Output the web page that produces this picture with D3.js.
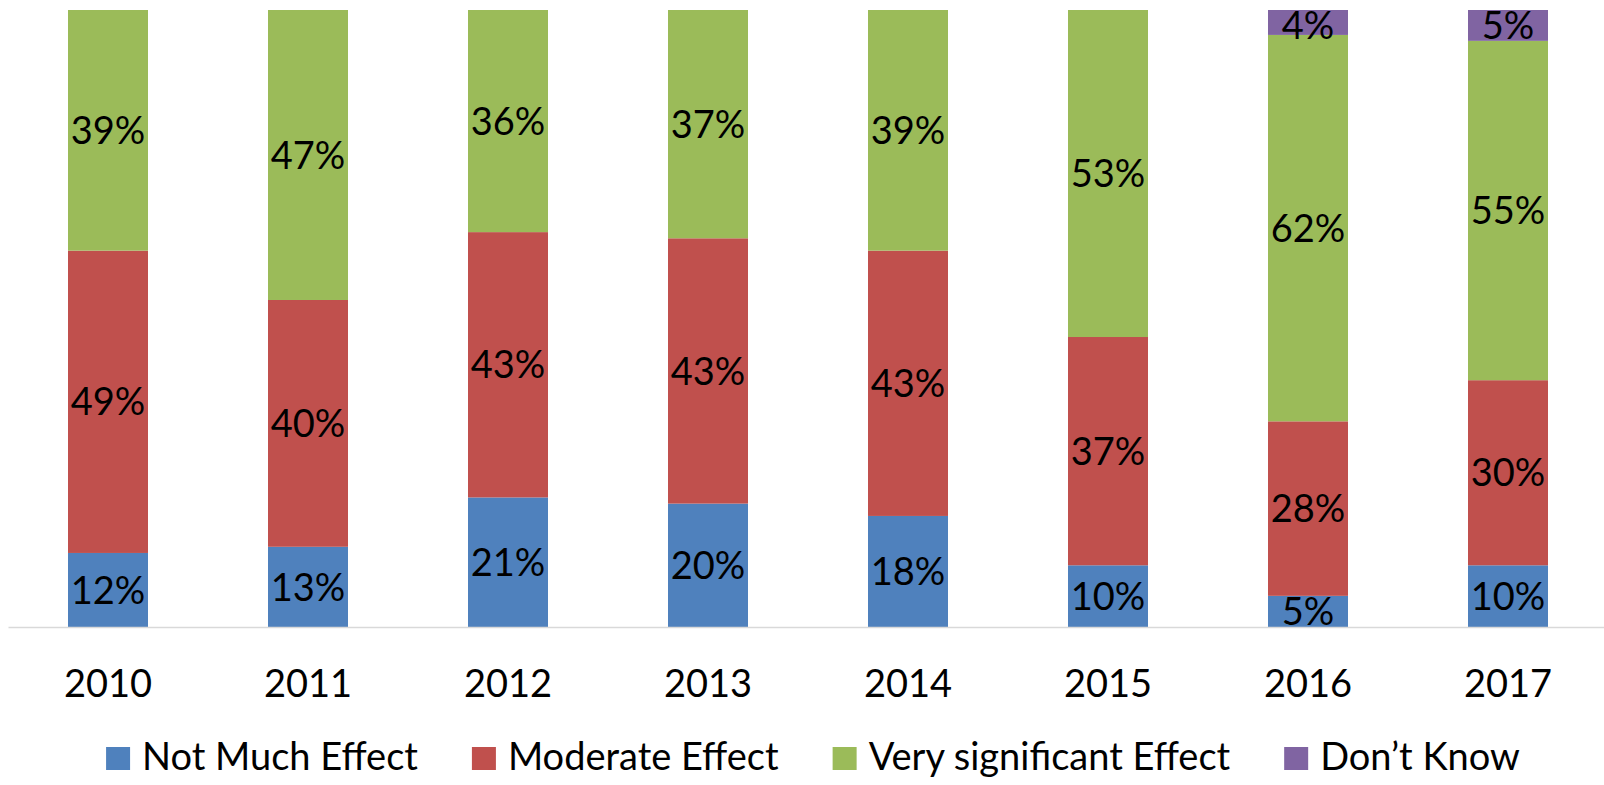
<!DOCTYPE html>
<html>
<head>
<meta charset="utf-8">
<script src="https://cdn.jsdelivr.net/npm/d3@7"></script>
<style>
  html, body { margin: 0; padding: 0; background: #fff; }
  svg { display: block; font-family: Lato, "Open Sans", sans-serif; }
</style>
</head>
<body>
<svg id="chart" width="1604" height="785"></svg>
<script>
const categories = ["2010", "2011", "2012", "2013", "2014", "2015", "2016", "2017"];
const seriesNames = ["Not Much Effect", "Moderate Effect", "Very significant Effect", "Don\u2019t Know"];
const notMuch     = [12, 13, 21, 20, 18, 10, 5, 10];
const moderate    = [49, 40, 43, 43, 43, 37, 28, 30];
const verySig     = [39, 47, 36, 37, 39, 53, 62, 55];
const dontKnow    = [0, 0, 0, 0, 0, 0, 4, 5];
const colors = ["#4F81BD", "#C0504D", "#9BBB59", "#8064A2"];

const seriesValues = [notMuch, moderate, verySig, dontKnow];
const keys = ["s0", "s1", "s2", "s3"];
const table = categories.map((c, i) => {
  const row = { year: c };
  keys.forEach((k, j) => row[k] = seriesValues[j][i]);
  return row;
});

const svg = d3.select("#chart");
const margin = { left: 8, right: -4, top: 10, bottom: 158 };
const W = 1604, H = 785;

const x = d3.scaleBand()
  .domain(categories)
  .range([margin.left, W - margin.right])
  .paddingInner(0.6)
  .paddingOuter(0.3);

const y = d3.scaleLinear()
  .domain([0, 1])
  .range([H - margin.bottom, margin.top]);

const stack = d3.stack().keys(keys).offset(d3.stackOffsetExpand);
const stacked = stack(table);

const FS = 38;

const layers = svg.append("g").selectAll("g")
  .data(stacked)
  .join("g")
  .attr("fill", (d, i) => colors[i]);

layers.selectAll("rect")
  .data(d => d.filter(p => p[1] - p[0] > 0))
  .join("rect")
  .attr("x", d => x(d.data.year))
  .attr("width", x.bandwidth())
  .attr("y", d => y(d[1]))
  .attr("height", d => y(d[0]) - y(d[1]));

// axis line
const axisG = svg.append("g")
  .attr("transform", `translate(0,${y(0)})`)
  .call(d3.axisBottom(x).tickSize(0).tickPadding(0));
axisG.select(".domain").attr("stroke", "#D9D9D9").attr("stroke-width", 1.5);
axisG.selectAll(".tick text")
  .attr("font-family", "Lato, sans-serif")
  .attr("font-size", FS)
  .attr("fill", "#000")
  .attr("dy", null)
  .attr("y", 70);

// data labels
const labelG = svg.append("g");
stacked.forEach((layer, i) => {
  labelG.selectAll(null)
    .data(layer.filter(p => p[1] - p[0] > 0).map(p => ({ p, v: seriesValues[i][categories.indexOf(p.data.year)] })))
    .join("text")
    .attr("x", d => x(d.p.data.year) + x.bandwidth() / 2)
    .attr("y", d => Math.max((y(d.p[0]) + y(d.p[1])) / 2, margin.top + 15))
    .attr("dy", "0.36em")
    .attr("text-anchor", "middle")
    .attr("font-size", FS)
    .attr("fill", "#000")
    .text(d => d.v + "%");
});

// legend
const legend = svg.append("g");
const items = legend.selectAll("g")
  .data(seriesNames)
  .join("g");
items.append("rect")
  .attr("width", 24).attr("height", 23)
  .attr("y", -23)
  .attr("fill", (d, i) => colors[i]);
items.append("text")
  .attr("x", 36)
  .attr("y", 0)
  .attr("font-size", FS)
  .attr("fill", "#000")
  .text(d => d);
let widths = [];
items.each(function () {
  widths.push(36 + d3.select(this).select("text").node().getComputedTextLength());
});
const gap = 54;
const total = d3.sum(widths) + gap * (widths.length - 1);
let cx = 813 - total / 2;
items.attr("transform", (d, i) => {
  const t = `translate(${cx},770)`;
  cx += widths[i] + gap;
  return t;
});
</script>
</body>
</html>
